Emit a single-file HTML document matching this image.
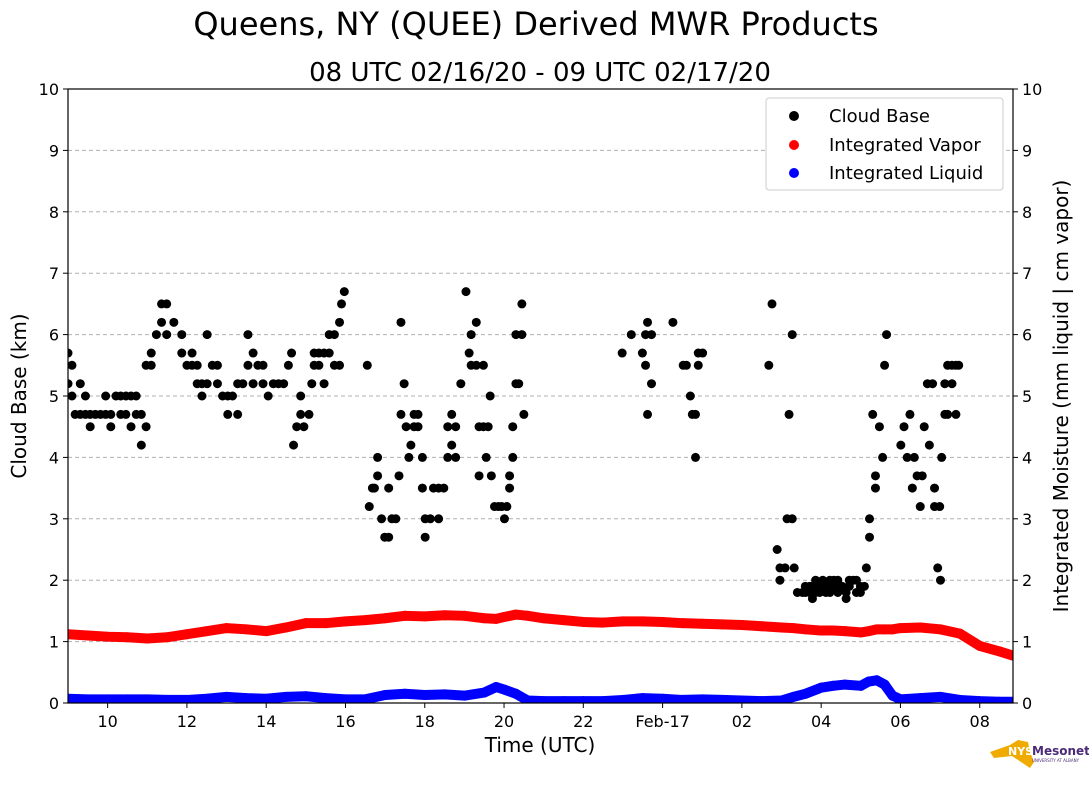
<!DOCTYPE html>
<html><head><meta charset="utf-8"><style>
body{margin:0;background:#fff;}
svg text{font-family:"DejaVu Sans","Liberation Sans",sans-serif;}
</style></head><body>
<svg id="chart" width="1089" height="804" xmlns="http://www.w3.org/2000/svg">
<text x="536" y="35" font-size="32" text-anchor="middle">Queens, NY (QUEE) Derived MWR Products</text>
<text x="540" y="81" font-size="26" text-anchor="middle">08 UTC 02/16/20 - 09 UTC 02/17/20</text>
<g id="grid"></g>
<g id="series"></g>
<g id="axes"></g>
<text transform="translate(26,396) rotate(-90)" font-size="20" text-anchor="middle">Cloud Base (km)</text>
<text transform="translate(1068,396) rotate(-90)" font-size="20" text-anchor="middle">Integrated Moisture (mm liquid | cm vapor)</text>
<text x="540" y="752" font-size="20" text-anchor="middle">Time (UTC)</text>
<g>
<rect x="766" y="98" width="237" height="92" rx="3" fill="#fff" stroke="#ccc"/>
<circle cx="794" cy="116" r="5" fill="#000"/><text x="829" y="122" font-size="18">Cloud Base</text>
<circle cx="794" cy="145" r="5" fill="#f00"/><text x="829" y="151" font-size="18">Integrated Vapor</text>
<circle cx="794" cy="173" r="5" fill="#00f"/><text x="829" y="179" font-size="18">Integrated Liquid</text>
</g>
<g>
<path d="M990 752 L1010 745 L1018 740 L1028 742 L1030 752 L1034 762 L1030 768 L1024 764 L1012 756 L994 758 Z" fill="#f0ab00"/>
<text x="1008" y="755" font-size="11" font-weight="bold" fill="#fff">NYS</text>
<text x="1032" y="755" font-size="12" font-weight="bold" fill="#4b2a78">Mesonet</text>
<text x="1032" y="762" font-size="4" fill="#4b2a78">UNIVERSITY AT ALBANY</text>
</g>
</svg>
<script>
const cbHours=[9.0,9.0,9.1,9.1,9.18,9.31,9.31,9.44,9.44,9.56,9.56,9.69,9.82,9.95,9.95,10.08,10.08,10.21,10.33,10.33,10.46,10.46,10.59,10.59,10.72,10.72,10.85,10.85,10.97,10.97,11.1,11.1,11.23,11.36,11.36,11.49,11.49,11.67,11.87,11.87,12.0,12.13,12.13,12.26,12.26,12.38,12.38,12.51,12.51,12.64,12.77,12.77,12.9,13.03,13.03,13.15,13.28,13.28,13.41,13.54,13.54,13.67,13.67,13.79,13.92,13.92,14.05,14.18,14.31,14.44,14.56,14.64,14.69,14.77,14.87,14.87,14.95,15.08,15.15,15.21,15.21,15.33,15.33,15.46,15.46,15.59,15.59,15.72,15.72,15.85,15.85,15.9,15.97,
16.55,16.6,16.68,16.73,16.81,16.81,16.91,16.99,17.09,17.09,17.17,17.27,17.35,17.4,17.4,17.48,17.53,17.6,17.65,17.73,17.73,17.83,17.83,17.94,17.94,18.01,18.01,18.14,18.22,18.35,18.35,18.48,18.58,18.58,18.68,18.68,18.78,18.78,18.91,19.04,19.12,19.17,19.17,19.3,19.3,19.37,19.37,19.48,19.48,19.55,19.6,19.65,19.68,19.76,19.86,19.94,20.01,20.07,20.14,20.14,20.22,20.22,20.3,20.3,20.37,20.45,20.45,20.5,
22.98,23.21,23.49,23.57,23.57,23.62,23.62,23.72,23.72,24.26,24.52,24.6,24.7,24.75,24.83,24.83,24.9,24.9,25.01,
26.68,26.76,26.89,26.96,26.96,27.09,27.14,27.19,27.27,27.27,27.32,27.4,27.53,27.6,27.6,27.71,27.71,27.78,27.78,27.86,27.86,27.96,27.96,28.04,28.12,28.12,28.22,28.22,28.32,28.32,28.42,28.42,28.53,28.63,28.63,28.71,28.71,28.81,28.89,28.89,28.99,28.99,29.09,29.14,29.22,29.22,29.3,29.37,29.37,29.47,29.55,29.6,29.65,30.01,30.09,30.17,30.24,30.3,30.35,30.42,30.5,30.55,30.6,30.68,30.73,30.81,30.86,30.86,30.94,30.99,31.01,31.04,31.12,31.12,31.19,31.19,31.3,31.3,31.4,31.4,31.47];
const cbKm=[5.2,5.7,5.5,5.0,4.7,5.2,4.7,5.0,4.7,4.7,4.5,4.7,4.7,5.0,4.7,4.5,4.7,5.0,5.0,4.7,5.0,4.7,4.5,5.0,5.0,4.7,4.7,4.2,4.5,5.5,5.7,5.5,6.0,6.2,6.5,6.5,6.0,6.2,6.0,5.7,5.5,5.7,5.5,5.5,5.2,5.0,5.2,5.2,6.0,5.5,5.5,5.2,5.0,4.7,5.0,5.0,5.2,4.7,5.2,5.5,6.0,5.7,5.2,5.5,5.5,5.2,5.0,5.2,5.2,5.2,5.5,5.7,4.2,4.5,4.7,5.0,4.5,4.7,5.2,5.5,5.7,5.5,5.7,5.2,5.7,6.0,5.7,5.5,6.0,5.5,6.2,6.5,6.7,
5.5,3.2,3.5,3.5,3.7,4.0,3.0,2.7,2.7,3.5,3.0,3.0,3.7,4.7,6.2,5.2,4.5,4.0,4.2,4.5,4.7,4.5,4.7,3.5,4.0,2.7,3.0,3.0,3.5,3.0,3.5,3.5,4.0,4.5,4.2,4.7,4.0,4.5,5.2,6.7,5.7,6.0,5.5,5.5,6.2,4.5,3.7,5.5,4.5,4.0,4.5,5.0,3.7,3.2,3.2,3.2,3.0,3.2,3.5,3.7,4.0,4.5,5.2,6.0,5.2,6.5,6.0,4.7,
5.7,6.0,5.7,5.5,6.0,4.7,6.2,6.0,5.2,6.2,5.5,5.5,5.0,4.7,4.7,4.0,5.5,5.7,5.7,
5.5,6.5,2.5,2.2,2.0,2.2,3.0,4.7,3.0,6.0,2.2,1.8,1.8,1.9,1.8,1.8,1.9,1.7,1.9,2.0,1.8,1.9,1.8,2.0,1.9,1.8,2.0,1.8,1.9,2.0,1.8,2.0,1.9,1.7,1.8,1.9,2.0,2.0,1.8,2.0,1.8,1.9,1.9,2.2,3.0,2.7,4.7,3.7,3.5,4.5,4.0,5.5,6.0,4.2,4.5,4.0,4.7,3.5,4.0,3.7,3.2,3.7,4.5,5.2,4.2,5.2,3.5,3.2,2.2,3.2,2.0,4.0,5.2,4.7,5.5,4.7,5.5,5.2,5.5,4.7,5.5];
const mHours=[9,9.5,10,10.5,11,11.5,12,12.5,13,13.5,14,14.5,15,15.5,16,16.5,17,17.5,18,18.5,19,19.5,19.8,20,20.3,20.6,21,21.5,22,22.5,23,23.5,24,24.5,25,25.5,26,26.5,27,27.3,27.6,28,28.3,28.6,29,29.2,29.4,29.6,29.8,30,30.5,31,31.5,32,32.5,33];
const vapor=[1.12,1.1,1.08,1.07,1.05,1.07,1.12,1.17,1.22,1.2,1.17,1.23,1.3,1.3,1.33,1.35,1.38,1.42,1.41,1.43,1.42,1.38,1.37,1.4,1.44,1.42,1.38,1.35,1.32,1.31,1.33,1.33,1.32,1.3,1.29,1.28,1.27,1.25,1.23,1.22,1.2,1.18,1.18,1.17,1.15,1.17,1.2,1.2,1.2,1.22,1.23,1.2,1.13,0.93,0.84,0.74];
const liquid=[0.07,0.06,0.06,0.06,0.06,0.05,0.05,0.07,0.1,0.08,0.07,0.1,0.11,0.08,0.06,0.06,0.13,0.15,0.13,0.14,0.12,0.17,0.26,0.22,0.15,0.04,0.03,0.03,0.03,0.03,0.05,0.08,0.07,0.05,0.06,0.05,0.04,0.03,0.04,0.1,0.15,0.25,0.28,0.3,0.28,0.35,0.37,0.3,0.12,0.06,0.08,0.1,0.05,0.03,0.02,0.02];
const xTickHours=[10,12,14,16,18,20,22,24,26,28,30,32];
const xTickLabels=["10","12","14","16","18","20","22","Feb-17","02","04","06","08"];
const yTicks=[0,1,2,3,4,5,6,7,8,9,10];

const NS="http://www.w3.org/2000/svg";
const L=68,R=1013,T=89,B=703;
const X=h=>L+(h-9)*39.64;
const Y=v=>B-v*(B-T)/10;
function mk(tag,attrs,parent){const e=document.createElementNS(NS,tag);for(const k in attrs)e.setAttribute(k,attrs[k]);parent.appendChild(e);return e;}
const grid=document.getElementById('grid'),axes=document.getElementById('axes'),series=document.getElementById('series');
yTicks.forEach(v=>{
  if(v>0&&v<10){const g=mk('line',{x1:L,x2:R,y1:Y(v),y2:Y(v),stroke:'#b0b0b0','stroke-dasharray':'4,3'},grid);
  
  }
  mk('line',{x1:L-5,x2:L,y1:Y(v),y2:Y(v),stroke:'#000'},axes);
  mk('line',{x1:R,x2:R+5,y1:Y(v),y2:Y(v),stroke:'#000'},axes);
  const t1=mk('text',{x:L-9,y:Y(v)+6,'font-size':16,'text-anchor':'end'},axes);t1.textContent=v;
  
  
  const t2=mk('text',{x:R+9,y:Y(v)+6,'font-size':16},axes);t2.textContent=v;
  
  
});
xTickHours.forEach((h,i)=>{
  mk('line',{x1:X(h),x2:X(h),y1:B,y2:B+5,stroke:'#000'},axes);
  const t=mk('text',{x:X(h),y:B+24,'font-size':16,'text-anchor':'middle'},axes);t.textContent=xTickLabels[i];
  
  
});
const frame=mk('rect',{x:L,y:T,width:R-L,height:B-T,fill:'none',stroke:'#000','stroke-width':1.2},axes);


const clip=mk('clipPath',{id:'pc'},document.getElementById('chart'));mk('rect',{x:L,y:T,width:R-L,height:B-T},clip);
series.setAttribute('clip-path','url(#pc)');
function line(hs,vs,color,name){
  const p=mk('polyline',{points:hs.map((h,i)=>X(h)+','+Y(vs[i])).join(' '),fill:'none',stroke:color,'stroke-width':10,'stroke-linejoin':'round','stroke-linecap':'round'},series);
  
  
  hs.forEach((h,i)=>{const c=mk('circle',{cx:X(h),cy:Y(vs[i]),r:5,fill:color},series);
    
    });
}
line(mHours,vapor,'#f00','integrated-vapor');
line(mHours,liquid,'#00f','integrated-liquid');
cbHours.forEach((h,i)=>{const c=mk('circle',{cx:X(h),cy:Y(cbKm[i]),r:4.5,fill:'#000'},series);
  
  });
</script>
</body></html>
